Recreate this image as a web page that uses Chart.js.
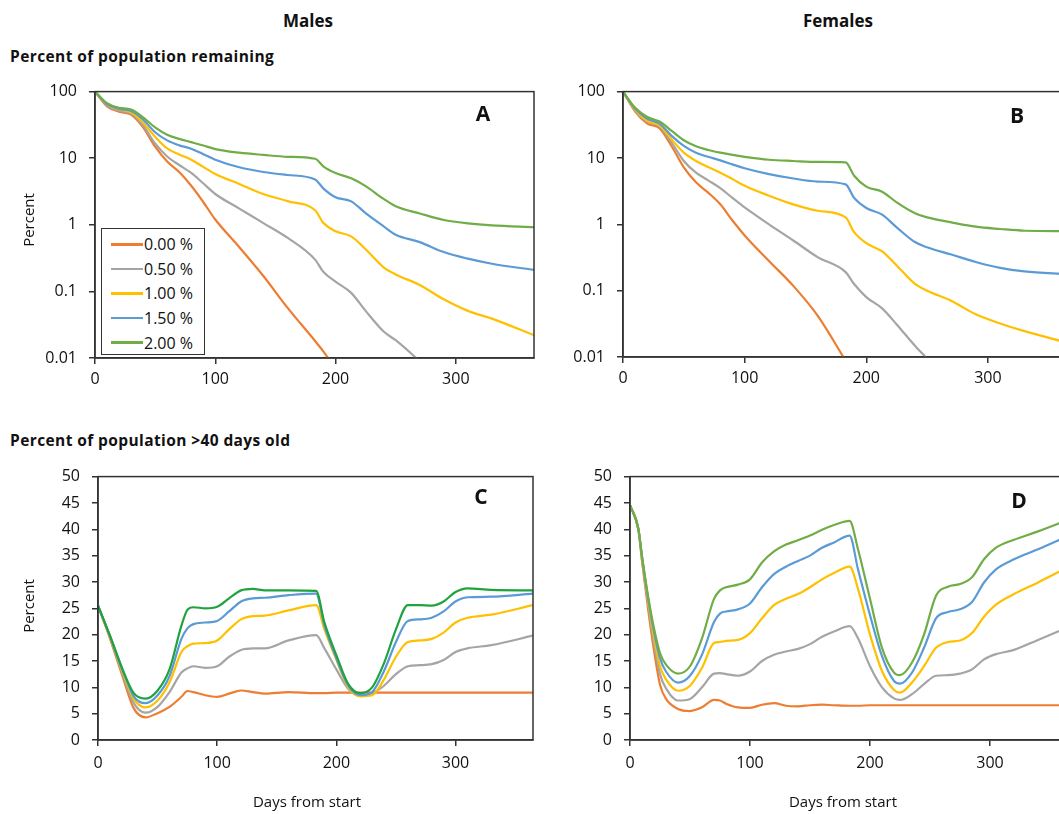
<!DOCTYPE html>
<html>
<head>
<meta charset="utf-8">
<script src="https://cdn.jsdelivr.net/npm/chart.js@4.4.1/dist/chart.umd.min.js"></script>
<style>
    body { margin: 0; overflow: hidden; background: #fff; font-family: 'Open Sans', Lato, sans-serif; color: #111; }
    #page { position: relative; width: 1100px; height: 814px; }
    canvas { position: absolute; }
    .txt { position: absolute; white-space: nowrap; }
    .head { font-weight: bold; font-size: 17px; transform: translate(-50%, -50%); }
    .sub { font-weight: bold; font-size: 15.5px; letter-spacing: 0.4px; transform: translateY(-50%); }
    .ytitle { font-size: 15px; transform: translate(-50%, -50%) rotate(-90deg); }
    .xtitle { font-size: 15px; transform: translate(-50%, -50%); }
    .letter { font-weight: bold; font-size: 21px; transform: translate(-50%, -50%); }
    #legend { position: absolute; left: 101px; top: 228px; width: 104px; height: 127px; border: 1.5px solid #333; background: #fff; box-sizing: border-box; padding-top: 3px; }
    .row { height: 24.6px; display: flex; align-items: center; font-size: 16px; }
    .row span { display: inline-block; width: 32px; height: 2.5px; margin: 0 1px 0 9px; }
</style>
</head>
<body>
<div id="page">
    <div class="txt head" style="left:308px; top:20px;">Males</div>
    <div class="txt head" style="left:838px; top:20px;">Females</div>
    <div class="txt sub" style="left:10px; top:56px;">Percent of population remaining</div>
    <div class="txt sub" style="left:10px; top:440px;">Percent of population &gt;40 days old</div>

    <canvas id="chartA" width="560" height="330" style="left:0px; top:70px;"></canvas>
    <canvas id="chartB" width="560" height="330" style="left:540px; top:70px;"></canvas>
    <canvas id="chartC" width="560" height="345" style="left:0px; top:455px;"></canvas>
    <canvas id="chartD" width="560" height="345" style="left:540px; top:455px;"></canvas>

    <div class="txt ytitle" style="left:28px; top:220px;">Percent</div>
    <div class="txt ytitle" style="left:28px; top:606px;">Percent</div>
    <div class="txt xtitle" style="left:307px; top:801px;">Days from start</div>
    <div class="txt xtitle" style="left:843px; top:801px;">Days from start</div>

    <div class="txt letter" style="left:483px; top:113px;">A</div>
    <div class="txt letter" style="left:1017px; top:115px;">B</div>
    <div class="txt letter" style="left:481px; top:496px;">C</div>
    <div class="txt letter" style="left:1019px; top:500px;">D</div>

    <div id="legend"></div>
</div>

<script>
// series and axes
const seriesNames = ['0.00 %', '0.50 %', '1.00 %', '1.50 %', '2.00 %'];
const lineColors = ['#ED7D31', '#A5A5A5', '#FFC000', '#5B9BD5', '#70AD47'];
const greenC = '#1FA33F';
const xTicks = [0, 100, 200, 300];
const logTicks = [0.01, 0.1, 1, 10, 100];
const pctTicks = [0, 5, 10, 15, 20, 25, 30, 35, 40, 45, 50];

// A / B: percent of population remaining
const daysRemain = [0, 10, 20, 30, 40, 50, 60, 70, 80, 90, 100, 120, 140, 160, 183, 190, 200, 213, 225, 240, 250, 270, 290, 310, 330, 365];

const maleRemain000 = [100, 60, 50, 45, 29, 14.9, 8.9, 6.2, 3.85, 2.2, 1.2, 0.46, 0.17, 0.057, 0.018, 0.0125, 0.0068, null, null, null, null, null, null, null, null, null];
const maleRemain050 = [100, 62, 52, 47, 31, 16.6, 10.6, 7.9, 6, 4.2, 2.9, 1.75, 1.06, 0.64, 0.3, 0.195, 0.14, 0.095, 0.051, 0.025, 0.0185, 0.009, null, null, null, null];
const maleRemain100 = [100, 65, 54, 49, 34, 21, 14, 11.4, 9.5, 7.4, 5.8, 4.1, 2.9, 2.27, 1.65, 1.06, 0.8, 0.67, 0.43, 0.23, 0.18, 0.125, 0.076, 0.051, 0.039, 0.022];
const maleRemain150 = [100, 65, 55, 51, 38, 24.5, 18.5, 15.6, 13.9, 11.5, 9.5, 7.3, 6.2, 5.6, 4.8, 3.5, 2.6, 2.25, 1.5, 0.95, 0.71, 0.55, 0.39, 0.31, 0.26, 0.21];
const maleRemain200 = [100, 67, 57, 54, 41, 29, 22.5, 19.5, 17.4, 15.5, 13.7, 12.1, 11.2, 10.5, 9.8, 7.5, 6.0, 5.0, 3.8, 2.45, 1.9, 1.48, 1.18, 1.05, 0.98, 0.925];

const femaleRemain000 = [100, 50, 33, 28, 15, 7.2, 4.3, 3.0, 2.0, 1.14, 0.68, 0.28, 0.118, 0.042, 0.0088, null, null, null, null, null, null, null, null, null, null, null];
const femaleRemain050 = [100, 52, 35, 30, 17, 9.0, 6.0, 4.6, 3.5, 2.5, 1.8, 1.0, 0.57, 0.32, 0.19, 0.126, 0.08, 0.054, 0.031, 0.0148, 0.0095, null, null, null, null, null];
const femaleRemain100 = [100, 53, 36, 31, 19, 12, 9.0, 7.3, 6.0, 4.8, 3.8, 2.7, 2.0, 1.6, 1.27, 0.76, 0.52, 0.39, 0.24, 0.126, 0.1, 0.07, 0.044, 0.032, 0.0245, 0.0165];
const femaleRemain150 = [100, 55, 39, 33, 21.5, 15.2, 12, 10.4, 9.2, 8.0, 7.0, 5.7, 4.9, 4.4, 4.0, 2.5, 1.76, 1.4, 0.9, 0.54, 0.45, 0.35, 0.27, 0.22, 0.195, 0.178];
const femaleRemain200 = [100, 57, 41.5, 35.4, 25.6, 18.5, 15, 13.2, 12, 11.1, 10.4, 9.4, 9.0, 8.7, 8.6, 5.4, 3.7, 3.1, 2.14, 1.47, 1.27, 1.07, 0.92, 0.85, 0.80, 0.79];

// C: males > 40 days old
const daysOldM = [0, 10, 20, 30, 40, 50, 60, 70, 75, 80, 90, 100, 110, 120, 130, 140, 160, 183, 190, 200, 210, 220, 230, 240, 250, 260, 270, 280, 290, 300, 310, 330, 365];
const maleOld000 = [25.5, 19.3, 12.5, 6.0, 4.3, 5.1, 6.3, 8.2, 9.3, 9.1, 8.5, 8.2, 8.8, 9.4, 9.1, 8.8, 9.1, 8.9, 8.9, 9.0, 9.0, 9.0, 9.0, 9.0, 9.0, 9.0, 9.0, 9.0, 9.0, 9.0, 9.0, 9.0, 9.0];
const maleOld050 = [25.5, 19.5, 13.0, 7.0, 5.2, 6.3, 9.1, 12.8, 13.6, 14.0, 13.7, 14.0, 15.8, 17.1, 17.4, 17.4, 18.9, 19.9, 17.4, 13.4, 9.7, 8.5, 8.9, 10.3, 12.5, 14.0, 14.2, 14.4, 15.2, 16.7, 17.4, 18.0, 19.8];
const maleOld100 = [25.5, 19.7, 13.5, 7.8, 6.2, 7.5, 10.9, 16.7, 17.8, 18.3, 18.4, 18.9, 21.0, 22.9, 23.5, 23.6, 24.6, 25.6, 21, 15.2, 10, 8.3, 8.5, 11.5, 15.8, 18.6, 18.9, 19.2, 20.4, 22.3, 23.2, 23.8, 25.6];
const maleOld150 = [25.5, 19.8, 13.8, 8.3, 7.0, 8.5, 12.1, 19.2, 21.2, 22.0, 22.3, 22.6, 24.4, 26.3, 26.9, 27.0, 27.5, 27.8, 21.7, 15.5, 10.3, 8.5, 9.1, 13.1, 18.6, 22.6, 22.9, 23.2, 24.4, 26.3, 27.1, 27.2, 27.8];
const maleOld200 = [25.5, 19.8, 13.7, 8.9, 7.85, 9.4, 13.4, 21.7, 24.7, 25.2, 25.0, 25.3, 26.9, 28.4, 28.7, 28.4, 28.4, 28.3, 22.3, 16.1, 10.6, 8.9, 10, 14.6, 21, 25.6, 25.6, 25.5, 26.3, 28.1, 28.8, 28.5, 28.4];

// D: females > 40 days old
const daysOldF = [0, 7, 10, 15, 20, 25, 30, 40, 50, 60, 70, 75, 80, 90, 100, 110, 120, 130, 140, 150, 160, 170, 183, 190, 200, 210, 220, 225, 235, 245, 255, 265, 275, 285, 295, 305, 320, 340, 365];
const femaleOld000 = [44.6, 40, 34, 25, 17, 10.5, 7.8, 5.9, 5.5, 6.2, 7.6, 7.5, 6.9, 6.2, 6.1, 6.7, 7.0, 6.5, 6.4, 6.6, 6.7, 6.6, 6.5, 6.5, 6.6, 6.6, 6.6, 6.6, 6.6, 6.6, 6.6, 6.6, 6.6, 6.6, 6.6, 6.6, 6.6, 6.6, 6.6];
const femaleOld050 = [44.6, 40, 34.3, 26, 18.5, 12.5, 9.8, 7.5, 7.8, 10, 12.6, 12.7, 12.5, 12.2, 13, 15, 16.2, 16.8, 17.3, 18.2, 19.6, 20.6, 21.6, 19.3, 14, 10, 7.9, 7.6, 8.7, 10.6, 12.2, 12.3, 12.6, 13.4, 15.3, 16.3, 17.1, 19, 21.4];
const femaleOld100 = [44.6, 40, 34.6, 26.5, 19.5, 14, 11.5, 9.35, 10.3, 13.7, 18.4, 18.6, 18.8, 19, 20.3, 23.1, 25.6, 26.8, 27.7, 29, 30.5, 31.7, 32.9, 28.7, 20, 13.1, 9.5, 9.0, 10.9, 14, 17.5, 18.6, 18.9, 20.3, 23.4, 25.7, 27.7, 29.9, 32.8];
const femaleOld150 = [44.6, 40, 34.8, 27, 20.5, 15.5, 13, 10.9, 12.2, 16.2, 22.4, 24, 24.4, 24.8, 25.9, 29, 31.5, 32.9, 34, 35, 36.5, 37.5, 38.8, 32.4, 23.7, 15.9, 11.2, 10.7, 12.8, 17.5, 23.1, 24.3, 24.8, 26.2, 29.9, 32.4, 34.3, 36.2, 38.7];
const femaleOld200 = [44.6, 40, 34.9, 27.4, 21.2, 16.5, 14.3, 12.6, 14, 19.3, 26.8, 28.4, 29, 29.5, 30.5, 33.7, 35.8, 37.1, 37.9, 38.8, 39.9, 40.8, 41.6, 36.2, 26.8, 17.5, 12.8, 12.3, 14.7, 20, 27.4, 29.1, 29.6, 30.9, 34.3, 36.5, 38, 39.6, 41.8];

const axisColor = '#333';
const tickFont = { family: "'Open Sans', Lato, sans-serif", size: 16 };

// frame around the plot area (top and right sides too)
const framePlugin = {
    id: 'frame',
    afterDraw(chart) {
        const a = chart.chartArea;
        const ctx = chart.ctx;
        ctx.save();
        ctx.strokeStyle = axisColor;
        ctx.lineWidth = 1.5;
        ctx.strokeRect(a.left, a.top, a.right - a.left, a.bottom - a.top);
        ctx.restore();
    }
};

function makeDatasets(days, seriesList, colors) {
    return seriesList.map((values, i) => ({
        label: seriesNames[i],
        data: days.map((d, j) => ({ x: d, y: values[j] })),
        borderColor: colors[i],
        backgroundColor: colors[i],
        borderWidth: 2.2,
        pointRadius: 0,
        cubicInterpolationMode: 'monotone',
        spanGaps: false,
        order: seriesList.length - 1 - i
    }));
}

function drawPanel(id, datasets, yType, yMin, yMax, yTickVals, pad, yWidth, xPad) {
    new Chart(document.getElementById(id), {
        type: 'line',
        data: { datasets: datasets },
        plugins: [framePlugin],
        options: {
            responsive: false,
            animation: false,
            layout: { padding: pad },
            plugins: { legend: { display: false }, tooltip: { enabled: false } },
            scales: {
                x: {
                    type: 'linear',
                    min: 0,
                    max: 365,
                    afterBuildTicks: (scale) => { scale.ticks = xTicks.map(v => ({ value: v })); },
                    afterFit: (scale) => { scale.height = 40; },
                    grid: { display: true, drawOnChartArea: false, drawTicks: true, tickLength: 6, color: axisColor, lineWidth: 1.5 },
                    border: { display: true, color: axisColor, width: 1.5 },
                    ticks: { font: tickFont, color: '#111', padding: xPad, maxRotation: 0 }
                },
                y: {
                    type: yType,
                    min: yMin,
                    max: yMax,
                    afterBuildTicks: (scale) => { scale.ticks = yTickVals.map(v => ({ value: v })); },
                    afterFit: (scale) => { scale.width = yWidth; },
                    grid: { display: true, drawOnChartArea: false, drawTicks: true, tickLength: 6, color: axisColor, lineWidth: 1.5 },
                    border: { display: true, color: axisColor, width: 1.5 },
                    ticks: { font: tickFont, color: '#111', padding: 12, callback: (v) => String(v) }
                }
            }
        }
    });
}

drawPanel('chartA',
    makeDatasets(daysRemain, [maleRemain000, maleRemain050, maleRemain100, maleRemain150, maleRemain200], lineColors),
    'logarithmic', 0.01, 100, logTicks,
    { left: 0, top: 15, right: 26, bottom: 2 }, 95, 6);

drawPanel('chartB',
    makeDatasets(daysRemain, [femaleRemain000, femaleRemain050, femaleRemain100, femaleRemain150, femaleRemain200], lineColors),
    'logarithmic', 0.01, 100, logTicks,
    { left: 0, top: 21, right: 33, bottom: 3 }, 83, 6);

drawPanel('chartC',
    makeDatasets(daysOldM, [maleOld000, maleOld050, maleOld100, maleOld150, maleOld200],
        [lineColors[0], lineColors[1], lineColors[2], lineColors[3], greenC]),
    'linear', 0, 50, pctTicks,
    { left: 0, top: 14, right: 27, bottom: 20 }, 98, 8);

drawPanel('chartD',
    makeDatasets(daysOldF, [femaleOld000, femaleOld050, femaleOld100, femaleOld150, femaleOld200], lineColors),
    'linear', 0, 50, pctTicks,
    { left: 0, top: 17, right: 32, bottom: 20 }, 90, 8);

// legend box inside panel A
let legendHtml = '';
for (let i = 0; i < seriesNames.length; i++) {
    legendHtml += `<div class="row"><span style="background:${lineColors[i]}"></span>${seriesNames[i]}</div>`;
}
document.getElementById('legend').innerHTML = legendHtml;
</script>
</body>
</html>
